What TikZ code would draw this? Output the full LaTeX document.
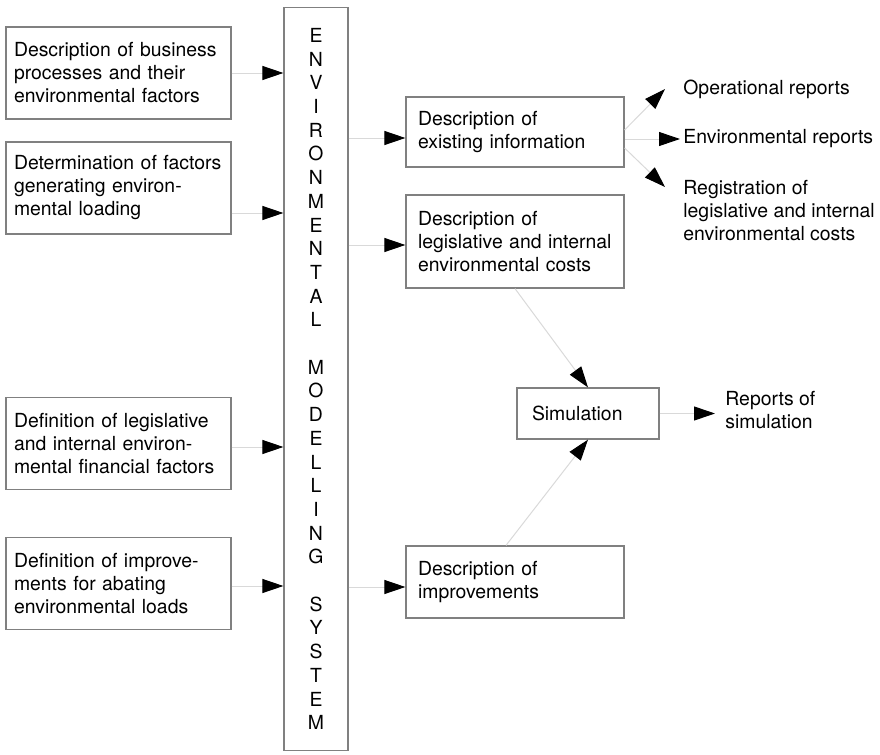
\documentclass[tikz,border=0pt]{standalone}
\usepackage{fontspec}
\setmainfont{TeX Gyre Heros}
\usetikzlibrary{arrows.meta}

\begin{document}
\begin{tikzpicture}[
    x=0.5pt, y=-0.5pt,
    every node/.style={font=\fontsize{9.7pt}{11.5pt}\selectfont},
    lbox/.style={rectangle, draw=black!50, line width=0.6pt, text width=104.5pt, inner xsep=4pt, minimum height=46pt, align=left},
    rbox/.style={rectangle, draw=black!50, line width=0.6pt, text width=97pt, inner xsep=6pt, align=left},
    outtext/.style={anchor=west, inner sep=0pt, align=left},
    arr/.style={draw=black!15, line width=0.5pt, -{Triangle[length=10.5pt, width=7pt, color=black]}}
]
\useasboundingbox (0,0) rectangle (880,755);

\node[lbox] (busproc) at (118.5,73) {Description of business\\processes and their\\environmental factors};
\node[lbox] (loadfact) at (118.5,188) {Determination of factors\\generating environ-\\mental loading};
\node[lbox] (finfact) at (118.5,443.5) {Definition of legislative\\and internal environ-\\mental financial factors};
\node[lbox] (improvdef) at (118.5,583.5) {Definition of improve-\\ments for abating\\environmental loads};

\node[rectangle, draw=black!50, line width=0.6pt, minimum width=32pt, minimum height=371.5pt, align=center, font=\fontsize{9.7pt}{11.85pt}\selectfont] (ems) at (316,379)
    {E\\N\\V\\I\\R\\O\\N\\M\\E\\N\\T\\A\\L\\[11.85pt]M\\O\\D\\E\\L\\L\\I\\N\\G\\[11.85pt]S\\Y\\S\\T\\E\\M};

\node[rbox, minimum height=35pt] (existinfo) at (515,132) {Description of\\existing information};
\node[rbox, minimum height=46.5pt] (legcosts) at (515,241.5) {Description of\\legislative and internal\\environmental costs};
\node[rbox, minimum height=36pt] (improvdesc) at (515,582) {Description of\\improvements};
\node[rbox, text width=56pt, inner xsep=7.5pt, minimum height=25.5pt] (sim) at (588,413.5) {Simulation};

\node[outtext] (opreports) at (683,89) {Operational reports};
\node[outtext] (envreports) at (683,139) {Environmental reports};
\node[outtext] (registr) at (683,211) {Registration of\\legislative and internal\\environmental costs};
\node[outtext] (simreports) at (725,410) {Reports of\\simulation};

\draw[arr] (busproc.east) -- (busproc.east -| ems.west);
\coordinate (a2) at ([yshift=-12.5pt]loadfact.east);
\draw[arr] (a2) -- (a2 -| ems.west);
\coordinate (a3) at ([yshift=-1.75pt]finfact.east);
\draw[arr] (a3) -- (a3 -| ems.west);
\coordinate (a4) at ([yshift=-1.25pt]improvdef.east);
\draw[arr] (a4) -- (a4 -| ems.west);

\coordinate (b1) at ([yshift=-3pt]existinfo.west);
\draw[arr] (b1 -| ems.east) -- (b1);
\coordinate (b2) at ([yshift=-1.75pt]legcosts.west);
\draw[arr] (b2 -| ems.east) -- (b2);
\coordinate (b3) at ([yshift=-2.5pt]improvdesc.west);
\draw[arr] (b3 -| ems.east) -- (b3);

\draw[arr] ([yshift=1pt]existinfo.east) -- ([xshift=-9pt]opreports.west);
\draw[arr] (envreports.west -| existinfo.east) -- ([xshift=-1.5pt]envreports.west);
\draw[arr] ([yshift=-8pt]existinfo.east) -- ([shift={(-9pt,12pt)}]registr.west);

\draw[arr] (legcosts.south) -- (sim.north);
\draw[arr] ([xshift=-4.5pt]improvdesc.north) -- (sim.south);
\draw[arr, shorten >=5pt] (sim.east) -- (sim.east -| simreports.west);
\end{tikzpicture}
\end{document}
